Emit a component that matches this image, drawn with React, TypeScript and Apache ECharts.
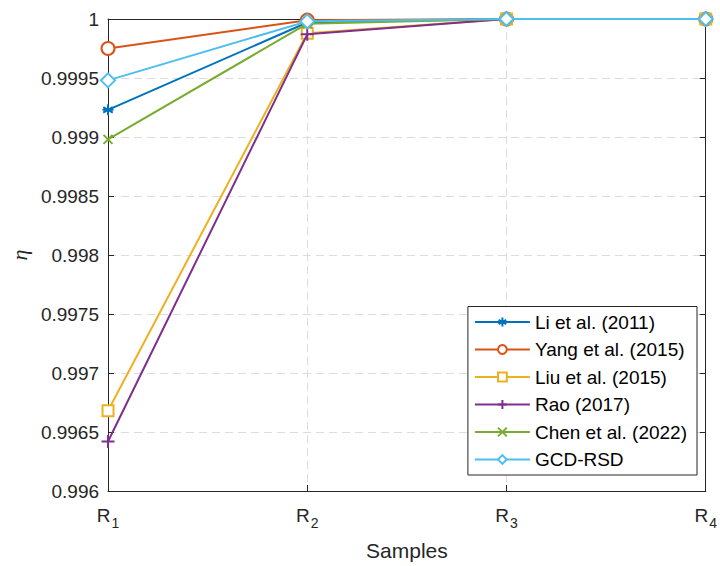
import React, { useEffect, useRef } from "react";
import * as echarts from "echarts";

const categories = ["R1", "R2", "R3", "R4"];
const seriesNames = ["Li et al. (2011)", "Yang et al. (2015)", "Liu et al. (2015)", "Rao (2017)", "Chen et al. (2022)", "GCD-RSD"];
const liValues = [0.99923, 0.99997, 1, 1];
const yangValues = [0.99975, 0.99999, 1, 1];
const liuValues = [0.99668, 0.99988, 1, 1];
const raoValues = [0.99642, 0.99987, 1, 1];
const chenValues = [0.99898, 0.99996, 1, 1];
const gcdValues = [0.99948, 0.99998, 1, 1];
const yTicks = { min: 0.996, max: 1, interval: 0.0005 };

const colors = ["#0072BD", "#D95319", "#EDB120", "#7E2F8E", "#77AC30", "#4DBEEE"];
const ASTERISK = "path://M0,-10L0,10M-8.66,-5L8.66,5M-8.66,5L8.66,-5M-10,0L10,0";
const PLUS = "path://M0,-10L0,10M-10,0L10,0";
const CROSS = "path://M-10,-10L10,10M-10,10L10,-10";

export default function App() {
  const ref = useRef<HTMLDivElement>(null);
  useEffect(() => {
    if (!ref.current) return;
    const chart = echarts.init(ref.current, undefined, { renderer: "svg" });
    const font = "'Liberation Sans', Arial, Helvetica, sans-serif";
    const axisColor = "#262626";
    const allValues = [liValues, yangValues, liuValues, raoValues, chenValues, gcdValues];
    const symbols = [ASTERISK, "emptyCircle", "emptyRect", PLUS, CROSS, "emptyDiamond"];
    const sizes = [11, 13, 11, 13, 9, 14];
    const series = seriesNames.map((name, i) => ({
      name,
      type: "line",
      data: allValues[i],
      symbol: symbols[i],
      symbolSize: sizes[i],
      showSymbol: true,
      lineStyle: { color: colors[i], width: 2 },
      itemStyle: { color: colors[i], borderColor: colors[i], borderWidth: 2 },
      z: 2 + i,
    }));
    chart.setOption({
      animation: false,
      textStyle: { fontFamily: font },
      grid: { left: 108, right: 9, top: 19, bottom: 75, containLabel: false },
      legend: {
        orient: "vertical",
        right: 23,
        bottom: 91,
        backgroundColor: "#fff",
        borderColor: "#262626",
        borderWidth: 1,
        borderRadius: 0,
        padding: [5, 10, 5, 6],
        itemWidth: 55,
        itemHeight: 11,
        itemGap: 6.5,
        textStyle: { fontSize: 19, lineHeight: 21, color: "#000", fontFamily: font },
        data: seriesNames,
      },
      xAxis: [
        {
          type: "category",
          data: categories,
          boundaryGap: false,
          name: "Samples",
          nameLocation: "middle",
          nameGap: 49,
          nameTextStyle: { fontSize: 21, color: axisColor, fontFamily: font },
          axisLine: { lineStyle: { color: axisColor, width: 1 } },
          axisTick: { inside: true, length: 6, lineStyle: { color: axisColor } },
          axisLabel: {
            margin: 9,
            color: axisColor,
            formatter: (v: string) => `{b|R}{s|${v.slice(1)}}`,
            rich: {
              b: { fontSize: 19, color: axisColor, fontFamily: font },
              s: { fontSize: 14, color: axisColor, fontFamily: font, padding: [16, 0, 0, 1] },
            },
          },
          splitLine: { show: true, lineStyle: { color: "#dcdcdc", type: [8, 5], width: 1 } },
        },
        {
          type: "category",
          data: categories,
          boundaryGap: false,
          position: "top",
          axisLine: { lineStyle: { color: axisColor, width: 1 } },
          axisTick: { inside: true, length: 6, lineStyle: { color: axisColor } },
          axisLabel: { show: false },
          splitLine: { show: false },
        },
      ],
      yAxis: [
        {
          type: "value",
          min: yTicks.min,
          max: yTicks.max,
          interval: yTicks.interval,
          name: "η",
          nameLocation: "middle",
          nameGap: 75,
          nameTextStyle: { fontSize: 22, color: axisColor, fontFamily: "'Liberation Serif', 'DejaVu Serif', serif", fontStyle: "italic" },
          axisLine: { show: true, lineStyle: { color: axisColor, width: 1 } },
          axisTick: { show: true, inside: true, length: 6, lineStyle: { color: axisColor } },
          axisLabel: {
            margin: 9,
            fontSize: 19,
            color: axisColor,
            formatter: (v: number) => String(parseFloat(v.toFixed(4))),
          },
          splitLine: { show: true, lineStyle: { color: "#dcdcdc", type: [8, 5], width: 1 } },
        },
        {
          type: "value",
          min: yTicks.min,
          max: yTicks.max,
          interval: yTicks.interval,
          position: "right",
          axisLine: { show: true, lineStyle: { color: axisColor, width: 1 } },
          axisTick: { show: true, inside: true, length: 6, lineStyle: { color: axisColor } },
          axisLabel: { show: false },
          splitLine: { show: false },
        },
      ],
      series,
    });
    return () => chart.dispose();
  }, []);
  return <div ref={ref} style={{ width: 720, height: 566, position: "absolute", left: 0, top: 0, background: "#fff" }} />;
}
